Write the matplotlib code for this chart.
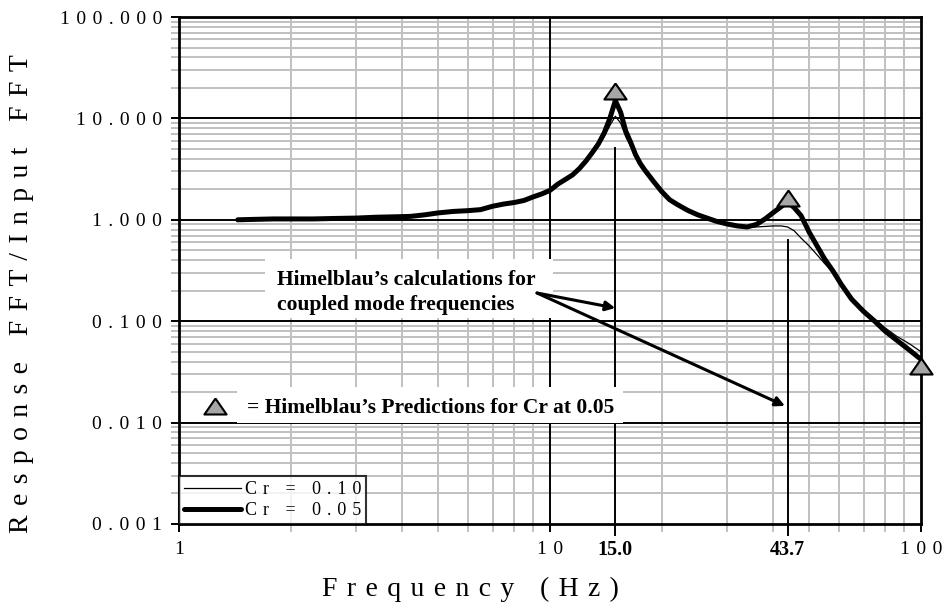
import matplotlib
matplotlib.use('Agg')
import matplotlib.pyplot as plt
from matplotlib.ticker import FixedLocator, LogLocator, NullFormatter
from matplotlib.patches import Rectangle

# ======================
# DATA
# ======================

# Cr = 0.05 (thick line)
freq_05 = [1.44, 1.6, 1.8, 2.0, 2.3, 2.6, 3.0, 3.4, 3.8, 4.2, 4.6, 5.0, 5.5, 6.0,
           6.5, 7.0, 7.5, 8.0, 8.5, 9.0, 9.5, 10.0, 10.5, 11.0, 11.5, 12.0, 12.5,
           13.0, 13.5, 14.0, 14.5, 15.0, 15.5, 16.0, 16.5, 17.0, 17.5, 18.0, 19.0,
           20.0, 21.0, 22.0, 23.5, 25.0, 26.5, 28.0, 30.0, 32.0, 34.0, 36.0, 38.0,
           40.0, 42.0, 43.7, 45.5, 47.5, 50.0, 52.5, 55.0, 58.0, 61.0, 65.0, 70.0,
           75.0, 80.0, 86.0, 93.0, 100.0]
resp_05 = [1.00, 1.01, 1.02, 1.02, 1.02, 1.03, 1.04, 1.06, 1.07, 1.08, 1.12, 1.17,
           1.21, 1.23, 1.26, 1.36, 1.43, 1.48, 1.55, 1.68, 1.80, 1.95, 2.25, 2.50,
           2.77, 3.2, 3.8, 4.6, 5.6, 7.2, 10.0, 15.0, 11.5, 7.5, 5.8, 4.4, 3.6, 3.1,
           2.4, 1.9, 1.58, 1.42, 1.24, 1.12, 1.04, 0.97, 0.91, 0.87, 0.85, 0.90,
           1.02, 1.18, 1.35, 1.50, 1.32, 1.10, 0.75, 0.55, 0.41, 0.31, 0.23, 0.165,
           0.125, 0.100, 0.080, 0.065, 0.052, 0.042]

# Cr = 0.10 (thin line)
freq_10 = freq_05
resp_10 = [1.00, 1.01, 1.02, 1.02, 1.02, 1.03, 1.04, 1.06, 1.07, 1.08, 1.12, 1.17,
           1.21, 1.23, 1.26, 1.36, 1.43, 1.48, 1.55, 1.68, 1.80, 1.95, 2.25, 2.50,
           2.77, 3.2, 3.7, 4.4, 5.3, 6.6, 8.5, 10.5, 9.0, 6.6, 5.3, 4.3, 3.6, 3.1,
           2.4, 1.9, 1.58, 1.42, 1.24, 1.12, 1.04, 0.97, 0.90, 0.86, 0.84, 0.85,
           0.86, 0.87, 0.87, 0.85, 0.78, 0.66, 0.55, 0.45, 0.37, 0.30, 0.23, 0.17,
           0.13, 0.105, 0.086, 0.071, 0.060, 0.050]

# Himelblau's predictions for Cr at 0.05
pred_freq = [15.0, 43.7, 100.0]
pred_resp = [18.6, 1.64, 0.036]

# coupled mode frequencies and the height of their marker lines
mode_freq = [15.0, 43.7]
mode_top = [5.1, 0.63]
mode_labels = ['15.0', '43.7']

ytick_vals = [0.001, 0.01, 0.1, 1, 10, 100]
ytick_text = ['0.001', '0.010', '0.100', '1.000', '10.000', '100.000']
xtick_vals = [1, 10, 100]
xtick_text = ['1', '10', '100']

SERIF = ['Liberation Serif', 'DejaVu Serif']
TRI = [(0, 0.72), (-1, -0.72), (1, -0.72), (0, 0.72)]
GAP = ' \u200a'


def spaced(s, gap=GAP):
    # mimic the wide letter spacing of the original
    return gap.join(s)


# ======================
# PLOT
# ======================

fig = plt.figure(figsize=(9.43, 6.06), dpi=100)
ax = fig.add_axes([179 / 943, 1 - 524 / 606, 742 / 943, 507 / 606])

ax.set_xscale('log')
ax.set_yscale('log')
ax.set_xlim(1, 100)
ax.set_ylim(0.001, 100)

ax.xaxis.set_major_locator(FixedLocator(xtick_vals))
ax.xaxis.set_minor_locator(LogLocator(base=10, subs=range(2, 10), numticks=20))
ax.xaxis.set_minor_formatter(NullFormatter())
ax.yaxis.set_major_locator(FixedLocator(ytick_vals))
ax.yaxis.set_minor_locator(LogLocator(base=10, subs=range(2, 10), numticks=20))
ax.yaxis.set_minor_formatter(NullFormatter())
ax.set_xticklabels([spaced(t) for t in xtick_text], family=SERIF, fontsize=14)
ax.set_yticklabels([spaced(t) for t in ytick_text], family=SERIF, fontsize=14)

ax.tick_params(which='major', direction='out', length=6, width=1.4, color='black', pad=6)
ax.tick_params(which='minor', direction='out', length=6, width=1.4, color='#c0c0c0')
ax.grid(which='minor', color='#c0c0c0', linewidth=1.4)
ax.set_axisbelow(True)
# major grid drawn on top of the minor grid
for v in ytick_vals[1:-1]:
    ax.axhline(v, color='black', linewidth=1.4, zorder=1)
ax.axvline(10, color='black', linewidth=1.4, zorder=1)
for sp in ax.spines.values():
    sp.set_linewidth(2)

# curves
ax.plot(freq_10, resp_10, color='black', linewidth=0.9, label=spaced('Cr = 0.10'), zorder=4)
ax.plot(freq_05, resp_05, color='black', linewidth=3.6, label=spaced('Cr = 0.05'),
        solid_joinstyle='round', solid_capstyle='round', zorder=4)

# mode frequency marker lines (run a bit below the axis)
for f, top, lab in zip(mode_freq, mode_top, mode_labels):
    ax.plot([f, f], [0.00078, top], color='black', linewidth=1.4, clip_on=False, zorder=3)
    ax.text(f, -0.061, lab, transform=ax.get_xaxis_transform(), ha='center', va='baseline',
            family=SERIF, fontweight='bold', fontsize=14.5)

# predictions
ax.plot(pred_freq, pred_resp, linestyle='none', marker=TRI, markersize=16,
        markerfacecolor='#a6a6a6', markeredgecolor='black', markeredgewidth=1.5,
        clip_on=False, zorder=6)

# annotation box 1
ax.add_patch(Rectangle((0.116, 0.406), 0.388, 0.117, transform=ax.transAxes,
                       facecolor='white', edgecolor='none', zorder=5))
ax.text(0.132, 0.4714, 'Himelblau\u2019s calculations for', transform=ax.transAxes,
        family=SERIF, fontweight='bold', fontsize=15.5, va='baseline', zorder=6)
ax.text(0.132, 0.422, 'coupled mode frequencies', transform=ax.transAxes,
        family=SERIF, fontweight='bold', fontsize=15.5, va='baseline', zorder=6)
for tgt in [(15.0, 0.135), (43.0, 0.0146)]:
    ax.annotate('', xy=tgt, xycoords='data', xytext=(0.4825, 0.4556),
                textcoords='axes fraction',
                arrowprops=dict(arrowstyle='-|>', color='black', lw=2.2,
                                mutation_scale=14, shrinkA=0, shrinkB=0), zorder=7)

# annotation box 2
ax.add_patch(Rectangle((0.078, 0.199), 0.52, 0.071, transform=ax.transAxes,
                       facecolor='white', edgecolor='none', zorder=5))
ax.plot([0.0485], [0.2327], transform=ax.transAxes, linestyle='none', marker=TRI,
        markersize=16, markerfacecolor='#a6a6a6', markeredgecolor='black',
        markeredgewidth=1.5, zorder=6)
ax.text(0.0916, 0.219, '= Himelblau\u2019s Predictions for Cr at 0.05', transform=ax.transAxes,
        family=SERIF, fontweight='bold', fontsize=15.5, va='baseline', zorder=6)

# legend
leg = ax.legend(loc='lower left', borderaxespad=0, frameon=True, fancybox=False,
                handlelength=3.2, handletextpad=0.2, labelspacing=0.25,
                borderpad=0.25, prop={'family': SERIF, 'size': 13})
leg.get_frame().set_edgecolor('black')
leg.get_frame().set_linewidth(1.5)
leg.set_zorder(8)

# axis labels
fig.text(470 / 943, 1 - 589 / 606, spaced('Frequency (Hz)'), ha='center', va='center',
         family=SERIF, fontsize=20)
fig.text(22 / 943, 1 - 294 / 606, spaced('Response FFT/Input FFT'), ha='center', va='center',
         rotation=90, family=SERIF, fontsize=20)

plt.savefig('out.png', dpi=100)
